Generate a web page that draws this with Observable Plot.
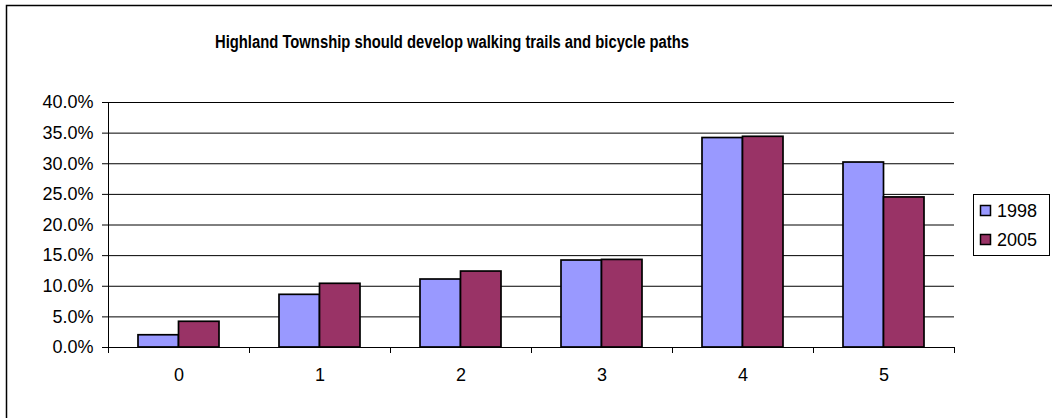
<!DOCTYPE html>
<html>
<head>
<meta charset="utf-8">
<script src="https://cdn.jsdelivr.net/npm/d3@7"></script>
<script src="https://cdn.jsdelivr.net/npm/@observablehq/plot@0.6"></script>
<style>
  html, body { margin: 0; padding: 0; background: #fff; }
  svg { display: block; }
</style>
</head>
<body>
<div id="chart"></div>
<script>
const title = "Highland Township should develop walking trails and bicycle paths";
const categories = ["0", "1", "2", "3", "4", "5"];
const years = ["1998", "2005"];
const values1998 = [0.020, 0.086, 0.111, 0.142, 0.342, 0.302];
const values2005 = [0.042, 0.104, 0.124, 0.143, 0.344, 0.245];
const yTicks = [0, 0.05, 0.10, 0.15, 0.20, 0.25, 0.30, 0.35, 0.40];
const colors = ["#9999FF", "#993366"];

const rows1998 = categories.map((c, i) => ({cat: c, year: years[0], value: values1998[i]}));
const rows2005 = categories.map((c, i) => ({cat: c, year: years[1], value: values2005[i]}));

const FONT = "'Liberation Sans', Arial, Helvetica, sans-serif";

const plot = Plot.plot({
  width: 1052,
  height: 418,
  marginLeft: 108,
  marginRight: 98,
  marginTop: 102,
  marginBottom: 71,
  style: {fontFamily: FONT, fontSize: "18px", color: "#000", background: "#fff", overflow: "visible"},
  x: {domain: categories, padding: 0, label: null},
  y: {domain: [0, 0.4], label: null},
  color: {domain: years, range: colors},
  marks: [
    Plot.ruleY(yTicks, {stroke: "#000", strokeWidth: 1}),
    Plot.frame({anchor: "left", stroke: "#000"}),
    Plot.barY(rows1998, {x: "cat", y: "value", fill: "year", stroke: "#000", strokeWidth: 1.7, insetLeft: 30, insetRight: 70.5}),
    Plot.barY(rows2005, {x: "cat", y: "value", fill: "year", stroke: "#000", strokeWidth: 1.7, insetLeft: 70.5, insetRight: 30}),
    Plot.axisY({ticks: yTicks, tickFormat: d3.format(".1%"), tickSize: 6, tickPadding: 9, fontSize: 18, label: null}),
    Plot.axisX({tickSize: 0, tickPadding: 21, fontSize: 18, label: null})
  ]
});

const svg = d3.select(plot);

// outer chart frame
svg.insert("rect", ":first-child")
  .attr("x", 6.5).attr("y", 5.5).attr("width", 1200).attr("height", 600)
  .attr("fill", "none").attr("stroke", "#000").attr("stroke-width", 1.5);

// category boundary ticks
const xs = plot.scale("x");
const ys = plot.scale("y");
const y0 = ys.apply(0);
const bounds = categories.map(c => xs.apply(c)).concat([xs.apply(categories[categories.length - 1]) + xs.bandwidth]);
svg.append("g").selectAll("line").data(bounds).join("line")
  .attr("x1", d => Math.round(d) + 0.5).attr("x2", d => Math.round(d) + 0.5)
  .attr("y1", y0).attr("y2", y0 + 6)
  .attr("stroke", "#000");

// title
svg.append("text")
  .attr("x", 452).attr("y", 47.5)
  .attr("text-anchor", "middle")
  .attr("font-family", "'Liberation Sans Narrow', 'Arial Narrow', " + FONT)
  .attr("font-weight", "bold")
  .attr("font-size", 17.5)
  .attr("textLength", 474)
  .attr("lengthAdjust", "spacingAndGlyphs")
  .attr("fill", "#000")
  .text(title);

// legend
const lg = svg.append("g");
lg.append("rect")
  .attr("x", 973.5).attr("y", 194.5).attr("width", 76).attr("height", 61)
  .attr("fill", "#fff").attr("stroke", "#000").attr("stroke-width", 1);
years.forEach((yr, i) => {
  const top = 205.5 + i * 29;
  lg.append("rect")
    .attr("x", 980.5).attr("y", top).attr("width", 10).attr("height", 10)
    .attr("fill", colors[i]).attr("stroke", "#000").attr("stroke-width", 1.5);
  lg.append("text")
    .attr("x", 997).attr("y", top + 11.5)
    .attr("text-anchor", "start")
    .attr("font-family", FONT).attr("font-size", 18).attr("fill", "#000")
    .text(yr);
});

document.getElementById("chart").appendChild(plot);
</script>
</body>
</html>
